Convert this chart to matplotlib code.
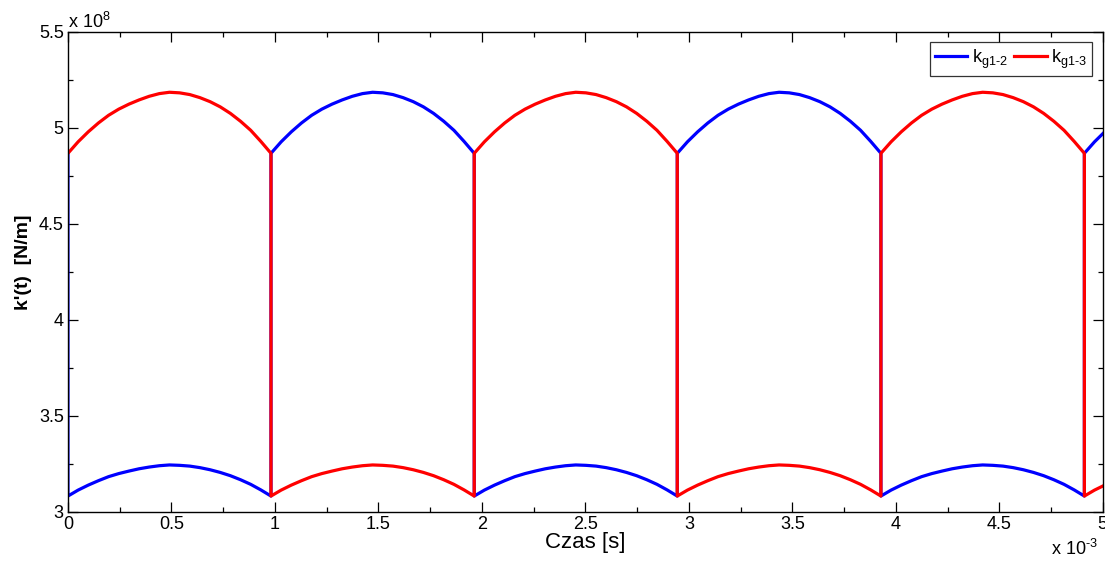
import matplotlib
matplotlib.use("Agg")
import matplotlib.pyplot as plt
from matplotlib.ticker import MultipleLocator

plt.rcParams['font.family'] = ['Liberation Sans', 'DejaVu Sans']
plt.rcParams['mathtext.fontset'] = 'custom'
plt.rcParams['mathtext.rm'] = 'Liberation Sans'
plt.rcParams['mathtext.it'] = 'Liberation Sans:italic'

# mesh switching times [x 1e-3 s]
switch_times = [0.0, 0.981, 1.963, 2.944, 3.928, 4.911, 5.893]
# profile positions within one mesh period (fraction of period)
profile_frac = [0.0, 0.05, 0.1, 0.15, 0.2, 0.25, 0.3, 0.35, 0.4, 0.45, 0.5,
                0.55, 0.6, 0.65, 0.7, 0.75, 0.8, 0.85, 0.9, 0.95, 1.0]
# double-pair contact arc [x 1e8 N/m]
high_arc = [4.868, 4.928, 4.980, 5.026, 5.066, 5.098, 5.124, 5.146, 5.165, 5.179, 5.186,
            5.183, 5.174, 5.158, 5.137, 5.110, 5.076, 5.035, 4.988, 4.930, 4.868]
# single-pair contact arc [x 1e8 N/m]
low_arc = [3.083, 3.114, 3.140, 3.163, 3.184, 3.200, 3.213, 3.225, 3.234, 3.241, 3.245,
           3.243, 3.239, 3.231, 3.220, 3.206, 3.189, 3.168, 3.144, 3.115, 3.083]
# which arc each series follows in consecutive periods (1 = high, 0 = low)
red_state = [1, 0, 1, 0, 1, 0]
blue_state = [0, 1, 0, 1, 0, 1]
blue_initial = 4.868  # blue value at t=0 just before its first drop

def build(states, initial=None):
    t, y = [], []
    if initial is not None:
        t.append(switch_times[0]); y.append(initial)
    for i, s in enumerate(states):
        t0, t1 = switch_times[i], switch_times[i + 1]
        arc = high_arc if s else low_arc
        for f, v in zip(profile_frac, arc):
            t.append(t0 + f * (t1 - t0)); y.append(v)
    return t, y

fig = plt.figure(figsize=(11.05, 5.63), dpi=100)
ax = fig.add_axes([0.0615, 0.0906, 0.9365, 0.8526])

tb, yb = build(blue_state, blue_initial)
tr, yr = build(red_state)
ax.plot(tb, yb, color=(0, 0, 1), lw=2.3, label=r'k$_{\mathrm{g1\text{-}2}}$')
ax.plot(tr, yr, color=(1, 0, 0), lw=2.3, label=r'k$_{\mathrm{g1\text{-}3}}$')

ax.set_xlim(0, 5)
ax.set_ylim(3, 5.5)
ax.xaxis.set_minor_locator(MultipleLocator(0.25))
ax.yaxis.set_minor_locator(MultipleLocator(0.25))
ax.set_xticks([0, 0.5, 1, 1.5, 2, 2.5, 3, 3.5, 4, 4.5, 5])
ax.set_xticklabels(['0', '0.5', '1', '1.5', '2', '2.5', '3', '3.5', '4', '4.5', '5'])
ax.set_yticks([3, 3.5, 4, 4.5, 5, 5.5])
ax.set_yticklabels(['3', '3.5', '4', '4.5', '5', '5.5'])
ax.tick_params(which='both', direction='in', top=True, right=True, labelsize=13, pad=3)
ax.tick_params(which='major', length=7, width=0.9)
ax.tick_params(which='minor', length=3.6, width=0.9)
for sp in ax.spines.values():
    sp.set_linewidth(1.0)

ax.set_xlabel('Czas [s]', fontsize=16, labelpad=-1)
ax.set_ylabel("k'(t)  [N/m]", fontsize=14, fontweight='bold')
ax.yaxis.set_label_coords(-0.035, 0.521)

fig.text(0.0615, 0.950, r'x 10$^{8}$', fontsize=13, ha='left', va='baseline')
fig.text(0.951, 0.0142, r'x 10$^{\text{-}3}$', fontsize=13, ha='left', va='baseline')

leg = ax.legend(loc='upper right', ncol=2, fontsize=13, frameon=True, fancybox=False,
                edgecolor='black', handlelength=1.8, handletextpad=0.25, columnspacing=0.35,
                borderpad=0.3, borderaxespad=0, bbox_to_anchor=(0.990, 0.979))
leg.get_frame().set_linewidth(0.9)

fig.savefig('out.png', dpi=100)
